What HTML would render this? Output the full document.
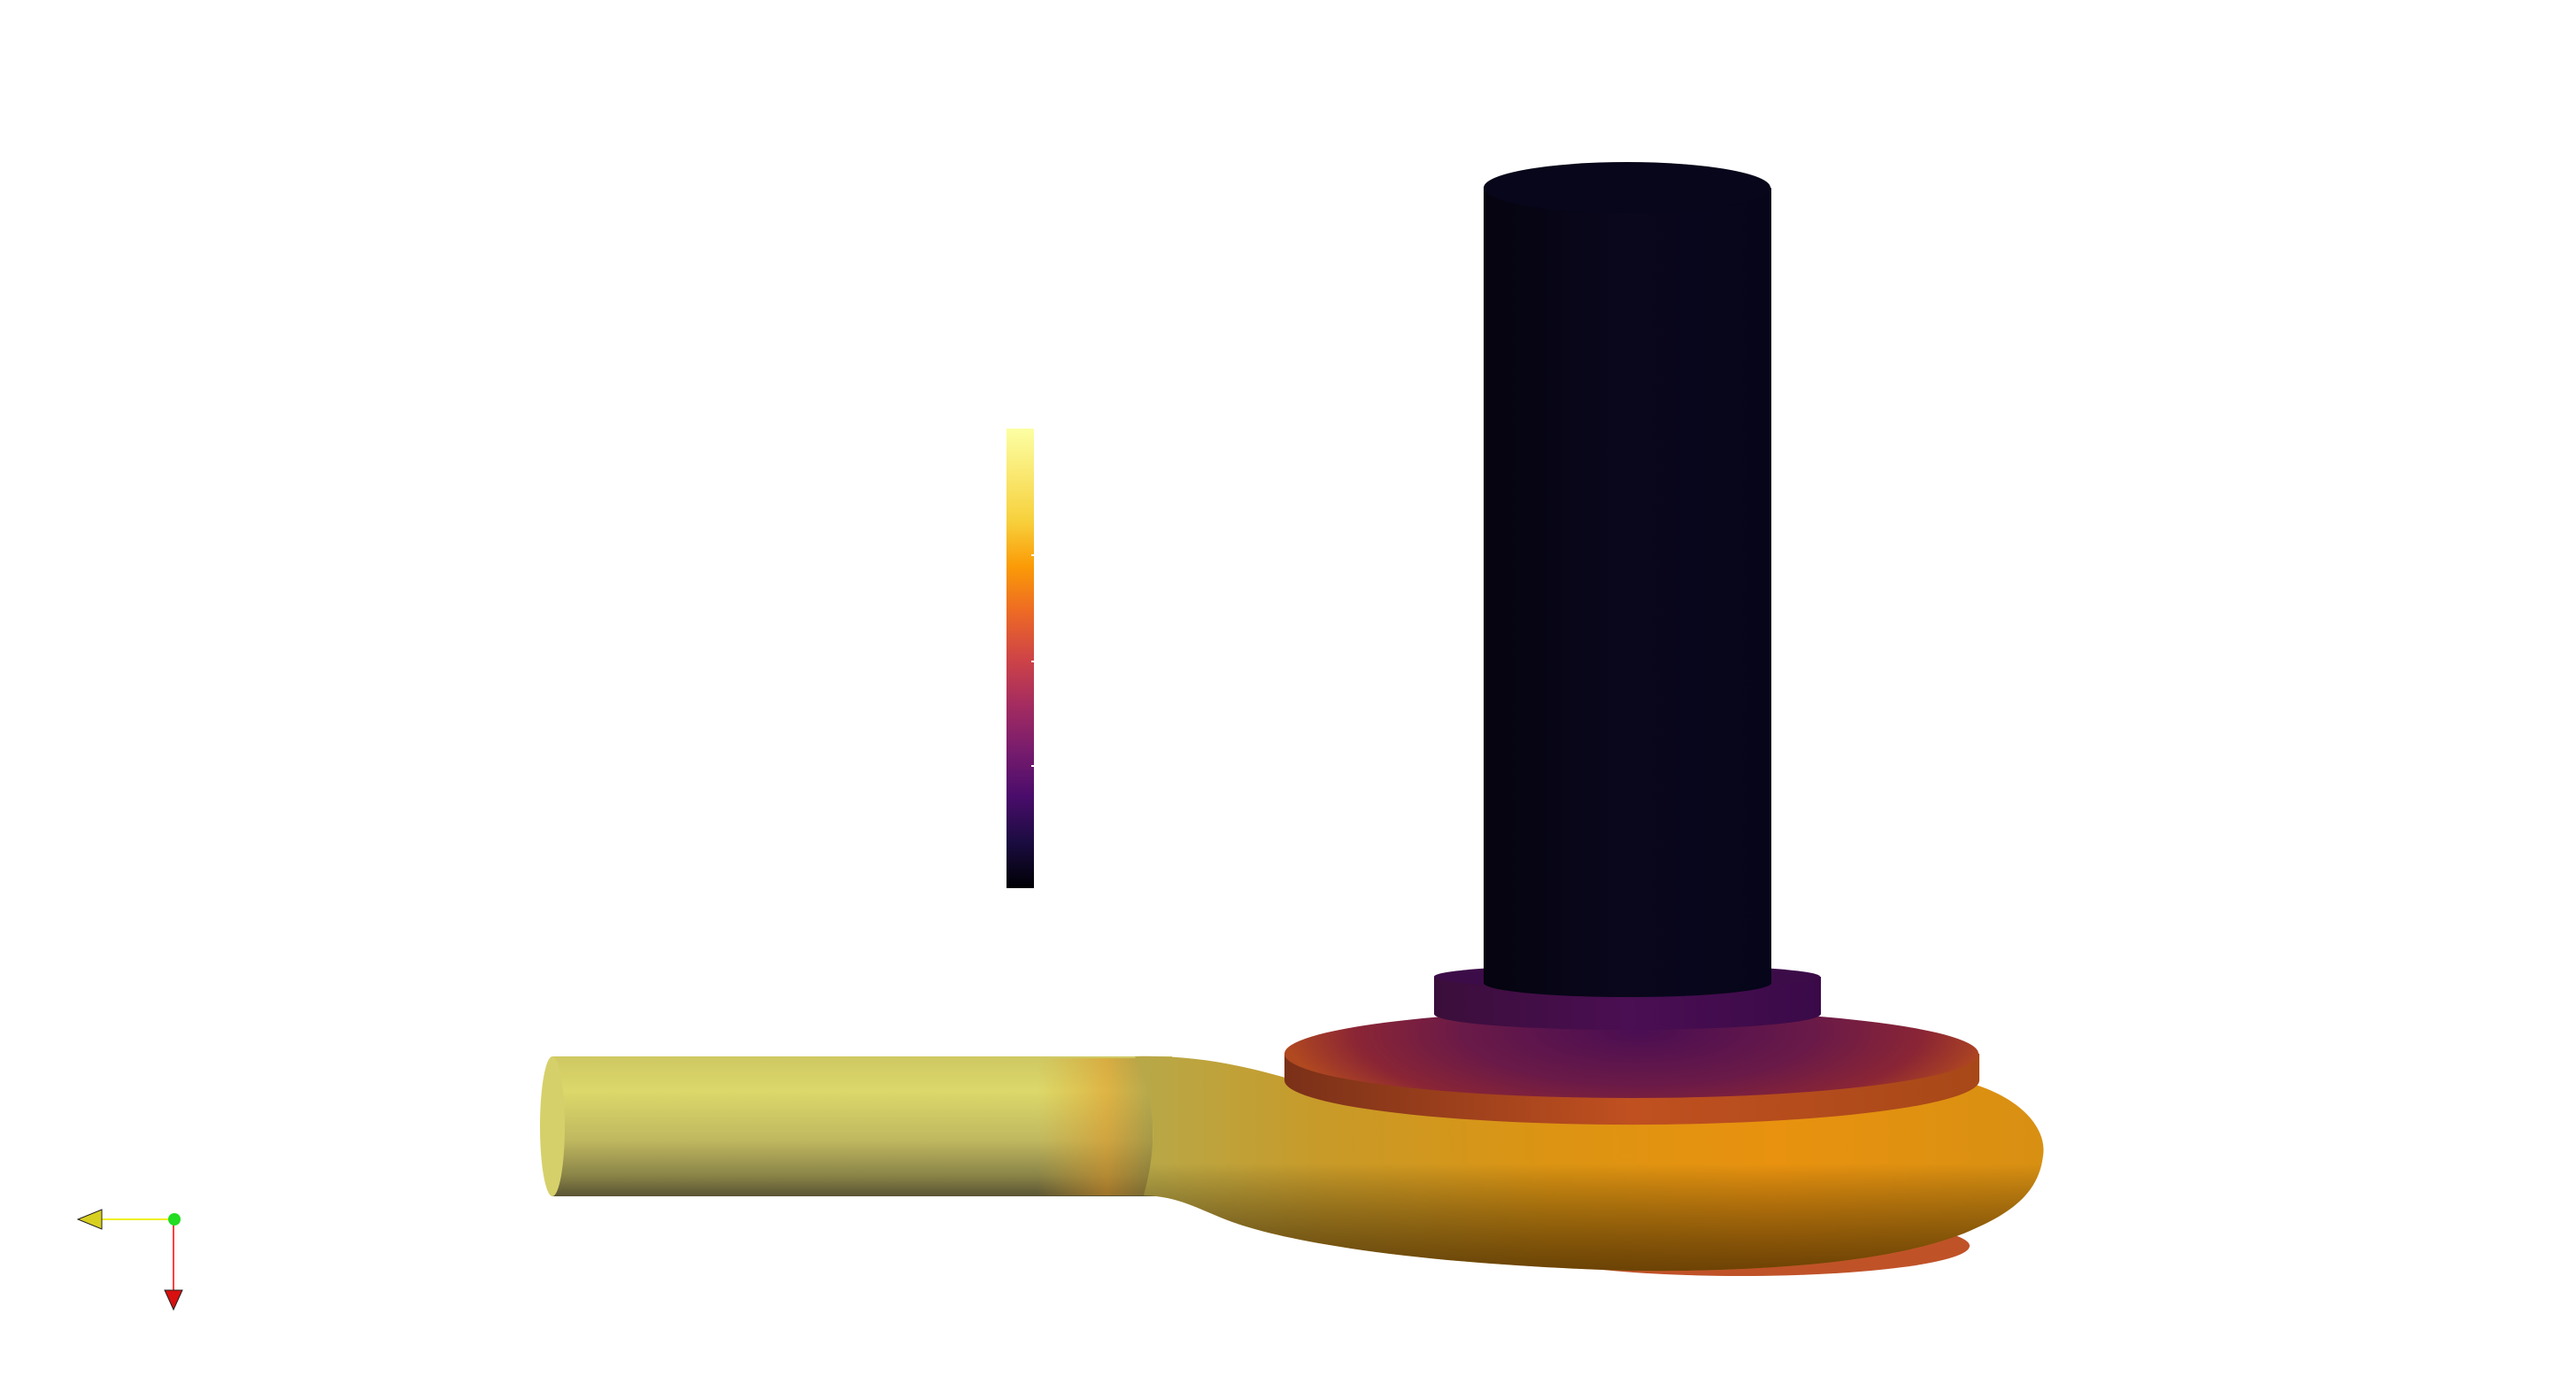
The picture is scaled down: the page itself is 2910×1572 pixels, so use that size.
<!DOCTYPE html>
<html><head><meta charset="utf-8"><style>
html,body{margin:0;padding:0;background:#fff;width:2910px;height:1572px;overflow:hidden}
svg{display:block}
</style></head><body>
<svg width="2910" height="1572" viewBox="0 0 2910 1572">
<defs>
<linearGradient id="cbar" x1="0" y1="1" x2="0" y2="0">
<stop offset="0" stop-color="#000004"/><stop offset="0.1" stop-color="#1b0c41"/><stop offset="0.2" stop-color="#4a0c6b"/><stop offset="0.3" stop-color="#781c6d"/><stop offset="0.4" stop-color="#a52c60"/><stop offset="0.5" stop-color="#cf4446"/><stop offset="0.6" stop-color="#ed6925"/><stop offset="0.7" stop-color="#fb9b06"/><stop offset="0.8" stop-color="#f7d13d"/><stop offset="1" stop-color="#fcffa4"/>
</linearGradient>
<linearGradient id="pipe" x1="0" y1="0" x2="0" y2="1">
<stop offset="0" stop-color="#cfc863"/><stop offset="0.25" stop-color="#dcd86a"/><stop offset="0.6" stop-color="#c0b860"/><stop offset="0.85" stop-color="#8a8448"/><stop offset="1" stop-color="#5a5434"/>
</linearGradient>
<linearGradient id="pipeJoin" x1="0" y1="0" x2="1" y2="0">
<stop offset="0" stop-color="#e0a020" stop-opacity="0"/><stop offset="0.6" stop-color="#e09020" stop-opacity="0.5"/><stop offset="1" stop-color="#8a7a30" stop-opacity="0.5"/>
</linearGradient>
<linearGradient id="voluteH" x1="1300" y1="0" x2="2320" y2="0" gradientUnits="userSpaceOnUse">
<stop offset="0" stop-color="#b8a848"/><stop offset="0.2" stop-color="#c89a28"/><stop offset="0.45" stop-color="#dc9412"/><stop offset="0.7" stop-color="#e8920f"/><stop offset="1" stop-color="#d89012"/>
</linearGradient>
<linearGradient id="voluteShade" x1="0" y1="0" x2="0" y2="1">
<stop offset="0" stop-color="#000" stop-opacity="0"/><stop offset="0.5" stop-color="#000" stop-opacity="0"/><stop offset="1" stop-color="#3a2000" stop-opacity="0.7"/>
</linearGradient>
<radialGradient id="diskTop" cx="1860" cy="1170" r="400" gradientUnits="userSpaceOnUse" gradientTransform="translate(1860 1170) scale(1 0.3) translate(-1860 -1170)">
<stop offset="0" stop-color="#4a0e52"/><stop offset="0.5" stop-color="#6a1a48"/><stop offset="0.8" stop-color="#8a2535"/><stop offset="1" stop-color="#b04820"/>
</radialGradient>
<linearGradient id="diskRim" x1="0" y1="0" x2="1" y2="0">
<stop offset="0" stop-color="#7a3018"/><stop offset="0.5" stop-color="#c05020"/><stop offset="1" stop-color="#a84818"/>
</linearGradient>
<linearGradient id="collar" x1="0" y1="0" x2="1" y2="0">
<stop offset="0" stop-color="#3a0e3a"/><stop offset="0.5" stop-color="#4a0e52"/><stop offset="1" stop-color="#3a0a48"/>
</linearGradient>
<linearGradient id="shaft" x1="0" y1="0" x2="1" y2="0">
<stop offset="0" stop-color="#05040f"/><stop offset="0.5" stop-color="#0a071d"/><stop offset="1" stop-color="#06051a"/>
</linearGradient>
</defs>

<!-- colorbar -->
<rect x="1137" y="484" width="31" height="519" fill="url(#cbar)"/>
<g stroke="#fff" stroke-width="2">
<line x1="1165" y1="627" x2="1168" y2="627"/><line x1="1165" y1="747" x2="1168" y2="747"/><line x1="1165" y1="865" x2="1168" y2="865"/>
</g>

<g transform="translate(-8,-5)">
<ellipse cx="1975" cy="1412" rx="258" ry="34" fill="#c05228"/>

<g>
<rect x="632" y="1198" width="700" height="158" fill="url(#pipe)"/>
<ellipse cx="632" cy="1277" rx="14" ry="79" fill="#d6d06a"/>
<rect x="1180" y="1200" width="130" height="155" fill="url(#pipeJoin)"/>
</g>

<path d="M1290 1198 C1360 1196 1420 1210 1470 1225 L2240 1230 C2300 1250 2320 1285 2316 1310 C2312 1345 2290 1370 2240 1392 C2160 1430 2000 1442 1850 1440 C1700 1436 1500 1420 1400 1385 C1360 1370 1340 1356 1300 1355 C1315 1300 1315 1250 1290 1198 Z" fill="url(#voluteH)"/>
<path d="M1290 1198 C1360 1196 1420 1210 1470 1225 L2240 1230 C2300 1250 2320 1285 2316 1310 C2312 1345 2290 1370 2240 1392 C2160 1430 2000 1442 1850 1440 C1700 1436 1500 1420 1400 1385 C1360 1370 1340 1356 1300 1355 C1315 1300 1315 1250 1290 1198 Z" fill="url(#voluteShade)"/>

<g>
<path d="M1459 1195 L1459 1225 A392 50 0 0 0 2244 1225 L2244 1195 Z" fill="url(#diskRim)"/>
<ellipse cx="1851" cy="1195" rx="392" ry="50" fill="url(#diskTop)"/>
<path d="M1459 1195 L1630 1155 L2065 1155 L2244 1195 Z" fill="url(#diskTop)"/>
</g>

<g>
<path d="M1628 1108 L1628 1150 A218 18 0 0 0 2065 1150 L2065 1108 Z" fill="url(#collar)"/>
<ellipse cx="1846" cy="1108" rx="218" ry="14" fill="#3c0c48"/>
</g>

<g>
<path d="M1684 217 L1684 1115 A162 16 0 0 0 2009 1115 L2009 217 Z" fill="url(#shaft)"/>
<ellipse cx="1846" cy="217" rx="162" ry="29" fill="#07061a"/>
</g>
</g>

<g>
<line x1="196" y1="1377" x2="110" y2="1377" stroke="#f0f020" stroke-width="2"/>
<polygon points="88,1377 115,1366 115,1388" fill="#d8d020" stroke="#222" stroke-width="1"/>
<line x1="196" y1="1377" x2="196" y2="1464" stroke="#ff4040" stroke-width="2"/>
<polygon points="196,1479 186,1457 206,1457" fill="#d81010" stroke="#222" stroke-width="1"/>
<circle cx="197" cy="1377" r="7" fill="#22dd22"/>
</g>
</svg>
</body></html>
